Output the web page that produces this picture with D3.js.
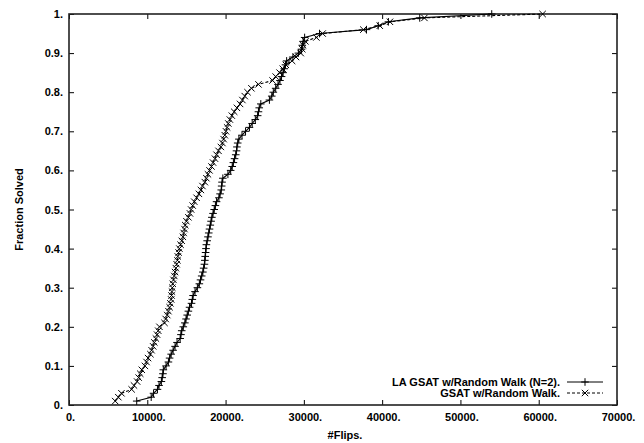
<!DOCTYPE html>
<html>
<head>
<meta charset="utf-8">
<script src="https://cdn.jsdelivr.net/npm/d3@7"></script>
<style>
  html, body { margin: 0; padding: 0; background: #fff; }
  svg text { font-family: "Liberation Sans", Arial, Helvetica, sans-serif; font-weight: bold; fill: #000; }
</style>
</head>
<body>
<svg id="chart" width="644" height="443"></svg>
<script>
// Flips needed per solved run, sorted ascending (100 runs each)
const laGsatFlips = [
  8650, 10500, 10800, 11300, 11500, 11800, 11900, 12000, 12050, 12400,
  12700, 12850, 13050, 13300, 13550, 13800, 14200, 14300, 14400, 14600,
  14800, 14950, 15100, 15250, 15400, 15650, 15750, 15850, 16100, 16400,
  16650, 16800, 16950, 17100, 17200, 17300, 17350, 17400, 17450, 17500,
  17550, 17650, 17750, 17850, 17950, 18050, 18150, 18250, 18400, 18550,
  18700, 18850, 19150, 19300, 19450, 19500, 19550, 19650, 20300, 20650,
  20850, 21000, 21150, 21300, 21400, 21450, 21550, 21700, 22100, 22550,
  23050, 23400, 23800, 24100, 24200, 24300, 24500, 25600, 25900, 26100,
  26400, 26700, 26950, 27150, 27350, 27500, 27650, 27800, 28600, 29300,
  29700, 29800, 29900, 30100, 32000, 38000, 39500, 40800, 44800, 54000
];
const gsatFlips = [
  5900, 6300, 6700, 8000, 8300, 8700, 8900, 9100, 9300, 9700,
  9900, 10100, 10400, 10550, 10750, 10900, 11100, 11250, 11400, 11550,
  12200, 12350, 12550, 12700, 12850, 12950, 13050, 13100, 13150, 13200,
  13250, 13350, 13450, 13550, 13650, 13750, 13850, 13900, 14000, 14100,
  14250, 14400, 14550, 14650, 14750, 14850, 15000, 15250, 15450, 15600,
  15800, 16000, 16300, 16600, 16850, 17050, 17350, 17550, 17750, 17950,
  18200, 18400, 18650, 18850, 19100, 19400, 19600, 19750, 19900, 20050,
  20200, 20350, 20550, 20800, 21100, 21450, 21850, 22150, 22450, 22800,
  23300, 24200, 26000, 26400, 26900, 27300, 27700, 28500, 29000, 29600,
  29800, 29900, 30200, 31600, 32400, 37600, 39700, 41000, 45400, 60500
];
const seriesNames = ["LA GSAT w/Random Walk (N=2)", "GSAT w/Random Walk"];
const xTicks = [0, 10000, 20000, 30000, 40000, 50000, 60000, 70000];
const yTicks = [0, 0.1, 0.2, 0.3, 0.4, 0.5, 0.6, 0.7, 0.8, 0.9, 1];
const xTitle = "#Flips";
const yTitle = "Fraction Solved";

// Cumulative fraction of runs solved within a given number of flips
function cdf(flips) {
  return flips.map((f, i) => ({ x: f, y: (i + 1) / flips.length }));
}
const series = [
  { name: seriesNames[0], pts: cdf(laGsatFlips), marker: "plus", dash: null },
  { name: seriesNames[1], pts: cdf(gsatFlips), marker: "cross", dash: "3,2" }
];

const margin = { left: 69, right: 27, top: 14, bottom: 38 };
const W = 644, H = 443;
const iw = W - margin.left - margin.right;
const ih = H - margin.top - margin.bottom;

const svg = d3.select("#chart");
const g = svg.append("g").attr("transform", `translate(${margin.left},${margin.top})`);

const x = d3.scaleLinear().domain([0, 70000]).range([0, iw]);
const y = d3.scaleLinear().domain([0, 1]).range([ih, 0]);

const fmt = d => (d === 0 ? "0" : d === 1 ? "1" : d3.format("")(d)) + ".";
const fmtY = d => (d === 0 ? "0" : d === 1 ? "1" : d3.format(".1f")(d)) + ".";

// Axes with inward ticks on all four sides
const xAxis = g.append("g").attr("transform", `translate(0,${ih})`)
  .call(d3.axisBottom(x).tickValues(xTicks).tickFormat(fmt).tickSizeInner(-5).tickSizeOuter(0).tickPadding(8));
const yAxis = g.append("g")
  .call(d3.axisLeft(y).tickValues(yTicks).tickFormat(fmtY).tickSizeInner(-5).tickSizeOuter(0).tickPadding(6));
g.append("g")
  .call(d3.axisTop(x).tickValues(xTicks).tickFormat("").tickSizeInner(-5).tickSizeOuter(0));
g.append("g").attr("transform", `translate(${iw},0)`)
  .call(d3.axisRight(y).tickValues(yTicks).tickFormat("").tickSizeInner(-5).tickSizeOuter(0));

g.selectAll(".domain").remove();
g.selectAll(".tick line").attr("stroke", "#000").attr("stroke-width", 1);
g.selectAll(".tick text").attr("font-size", 11).attr("font-family", null);
xAxis.selectAll(".tick text").attr("dx", "1px");

// Plot frame
g.append("rect").attr("x", 0).attr("y", 0).attr("width", iw).attr("height", ih)
  .attr("fill", "none").attr("stroke", "#222").attr("stroke-width", 1.6);

// Axis titles
svg.append("text").attr("x", margin.left + iw / 2 + 2).attr("y", 439)
  .attr("text-anchor", "middle").attr("font-size", 11).text(xTitle + ".");
svg.append("text").attr("transform", `translate(23,${margin.top + ih / 2}) rotate(-90)`)
  .attr("text-anchor", "middle").attr("font-size", 11).text(yTitle);

// Marker glyphs
function drawMarker(sel, type, cx, cy) {
  const s = type === "plus" ? 3.8 : 3.2;
  const p = type === "plus"
    ? `M${cx - s},${cy}H${cx + s}M${cx},${cy - s}V${cy + s}`
    : `M${cx - s},${cy - s}L${cx + s},${cy + s}M${cx - s},${cy + s}L${cx + s},${cy - s}`;
  sel.append("path").attr("d", p).attr("stroke", "#000").attr("stroke-width", 1).attr("fill", "none");
}

const line = d3.line().x(d => x(d.x)).y(d => y(d.y));

series.forEach(s => {
  const sg = g.append("g");
  sg.append("path").datum(s.pts).attr("d", line)
    .attr("fill", "none").attr("stroke", "#000").attr("stroke-width", 1.1)
    .attr("stroke-dasharray", s.dash);
  s.pts.forEach(p => drawMarker(sg, s.marker, x(p.x), y(p.y)));
});

// Legend, lower right inside the frame
const legX = 560, legY0 = 382, legDy = 11;
series.forEach((s, i) => {
  const ly = legY0 + i * legDy;
  svg.append("text").attr("x", legX).attr("y", ly).attr("dy", "0.35em")
    .attr("text-anchor", "end").attr("font-size", 11).text(s.name + ".");
  svg.append("line").attr("x1", legX + 7).attr("x2", legX + 43).attr("y1", ly).attr("y2", ly)
    .attr("stroke", "#000").attr("stroke-width", 1).attr("stroke-dasharray", s.dash);
  drawMarker(svg, s.marker, legX + 25, ly);
});
</script>
</body>
</html>
